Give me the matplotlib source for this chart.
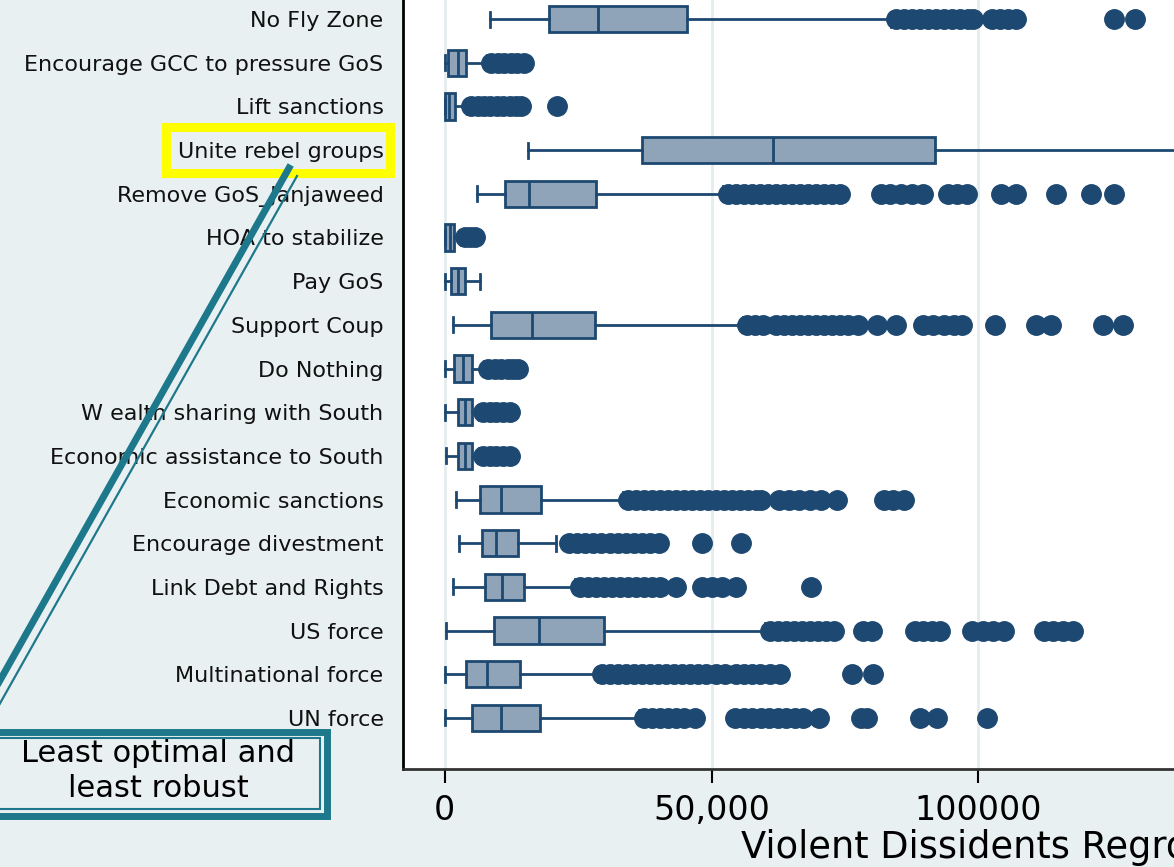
import matplotlib
matplotlib.use("Agg")
import matplotlib.pyplot as plt
from matplotlib.lines import Line2D
from matplotlib.patches import Rectangle

# policy options, top to bottom
policies = [
    "No Fly Zone", "Encourage GCC to pressure GoS", "Lift sanctions",
    "Unite rebel groups", "Remove GoS_Janjaweed", "HOA to stabilize",
    "Pay GoS", "Support Coup", "Do Nothing", "W ealth sharing with South",
    "Economic assistance to South", "Economic sanctions",
    "Encourage divestment", "Link Debt and Rights", "US force",
    "Multinational force", "UN force",
]

whislo = [8500, 0, 0, 15700, 6100, 0, 0, 1500, 0, 0, 250, 2200, 2800, 1550, 200, 0, 0]
q1 = [19600, 700, 0, 36900, 11300, 0, 1300, 8800, 1700, 2600, 2600, 6650, 7000, 7650, 9300, 4070, 5100]
med = [28700, 2500, 800, 61500, 15800, 1100, 2500, 16300, 3400, 3800, 3800, 10600, 9600, 10700, 17700, 8000, 10500]
q3 = [45400, 4000, 2000, 91900, 28400, 1800, 3800, 28100, 5100, 5100, 5100, 18000, 13700, 14900, 29900, 14200, 17900]
whishi = [83700, 7900, 4200, 180000, 52200, 3000, 6700, 55900, 7400, 6500, 6500, 33500, 20800, 24500, 60100, 28700, 36500]

out_no_fly = [84500, 86000, 87500, 89000, 90500, 92000, 93500, 95000, 96500, 98000,
              99000, 102500, 104000, 105500, 107000, 125300, 129300]
out_gcc = [8700, 10000, 11200, 12400, 13600, 14900]
out_lift = [5000, 6200, 7400, 8600, 9800, 11000, 12200, 13400, 14300, 21000]
out_unite = []
out_remove = [53000, 54500, 56000, 57500, 59000, 60500, 62000, 63500, 65000, 66500,
              68000, 69500, 71000, 72500, 74000, 81700, 83500, 85500, 87500, 89600,
              94200, 96000, 97900, 104200, 107100, 114500, 121000, 125400]
out_hoa = [3800, 4800, 5800]
out_pay = []
out_coup = [56700, 58200, 59700, 62000, 63500, 65000, 66500, 68000, 69500, 71000,
            72500, 74000, 75500, 77500, 81000, 84500, 89600, 91500, 93500, 95500,
            97000, 103000, 110800, 113600, 123300, 127000]
out_nothing = [8200, 9400, 10600, 11800, 12800, 13800]
out_wealth = [7300, 8500, 9700, 10900, 12300]
out_assist = [7300, 8500, 9700, 10900, 12300]
out_sanctions = [34300, 35800, 37300, 38800, 40300, 41800, 43300, 44800, 46300, 47800,
                 49300, 50800, 52300, 53800, 55300, 56800, 58300, 59200, 62600, 64500,
                 66400, 68500, 70500, 73500, 82300, 84000, 86000]
out_divest = [23400, 24900, 26400, 27900, 29400, 30900, 32400, 33900, 35400, 36900,
              38400, 40200, 48300, 55500]
out_debt = [25300, 26800, 28300, 29800, 31300, 32800, 34300, 35800, 37300, 38800,
            40300, 43400, 48300, 50000, 52000, 54500, 68700]
out_us = [60900, 62400, 63900, 65400, 66900, 68400, 69900, 71400, 72900, 78300,
          80000, 88200, 89700, 91200, 92800, 98800, 100800, 102800, 104800, 112200,
          114000, 115900, 117700]
out_multi = [29500, 31000, 32500, 34000, 35500, 37000, 38500, 40000, 41500, 43000,
             44500, 46000, 47500, 49000, 50800, 52500, 54500, 56000, 57500, 59000,
             61000, 62800, 76300, 80300]
out_un = [37300, 38800, 40300, 41800, 43300, 44800, 47000, 54400, 56000, 57600,
          59200, 60800, 62400, 64000, 65600, 67200, 70100, 78000, 79200, 89100,
          92300, 101600]

outliers = [out_no_fly, out_gcc, out_lift, out_unite, out_remove, out_hoa, out_pay,
            out_coup, out_nothing, out_wealth, out_assist, out_sanctions, out_divest,
            out_debt, out_us, out_multi, out_un]

xticks = [0, 50000, 100000]
xtick_labels = ["0", "50,000", "100000"]

navy = "#1d4871"
fill = "#8fa4b8"
bg = "#e9f0f2"
teal = "#1e788c"

W, H = 1174, 867
fig = plt.figure(figsize=(11.74, 8.67), dpi=100, facecolor=bg)
ax = fig.add_axes([403 / W, 98 / H, 997 / W, 801 / H])
ax.set_facecolor("white")

n = len(policies)
positions = list(range(n, 0, -1))
stats = []
for i in range(n):
    stats.append(dict(med=med[i], q1=q1[i], q3=q3[i], whislo=whislo[i],
                      whishi=whishi[i], fliers=outliers[i]))

ax.bxp(stats, positions=positions, orientation="horizontal", widths=0.6,
       capwidths=0.34, patch_artist=True,
       boxprops=dict(facecolor=fill, edgecolor=navy, linewidth=2),
       medianprops=dict(color=navy, linewidth=2),
       whiskerprops=dict(color=navy, linewidth=2),
       capprops=dict(color=navy, linewidth=2),
       flierprops=dict(marker="o", markerfacecolor=navy, markeredgecolor=navy,
                       markersize=14))

ax.set_ylim(1 - 1.17, n + 1.17)
ax.set_xlim(-7772, 178933)
ax.set_yticks(positions, policies)
ax.set_xticks(xticks, xtick_labels)
ax.tick_params(axis="y", length=0, pad=14, labelsize=16, labelcolor="#111111")
ax.tick_params(axis="x", length=10, width=1.5, pad=8, labelsize=24)
ax.set_axisbelow(True)
ax.xaxis.grid(True, color="#e3ecef", linewidth=2)

for s in ["top", "right"]:
    ax.spines[s].set_visible(False)
ax.spines["left"].set_linewidth(2)
ax.spines["bottom"].set_linewidth(2)
ax.spines["bottom"].set_color("#333333")

ax.set_xlabel("Violent Dissidents Regrouping", fontsize=26.5, ha="left")
ax.xaxis.set_label_coords((741 - 403) / 997, -0.0986)
ax.xaxis.label.set_va("center")


def fx(px):
    return px / W


def fy(py):
    return 1 - py / H


# yellow highlight around the label
fig.add_artist(Rectangle((fx(166), fy(173)), (390 - 166) / W, (173 - 127) / H,
                         transform=fig.transFigure, fill=False,
                         edgecolor="#ffff00", linewidth=6.5))

# double-line pointer
fig.add_artist(Line2D([fx(289), fx(-19)], [fy(168), fy(714)],
                      transform=fig.transFigure, color=teal, linewidth=5))
fig.add_artist(Line2D([fx(297), fx(-6)], [fy(176), fy(714)],
                      transform=fig.transFigure, color=teal, linewidth=1.6))

# callout box
fig.add_artist(Rectangle((fx(-20), fy(815.5)), 347 / W, (815.5 - 731.5) / H,
                         transform=fig.transFigure, fill=False,
                         edgecolor=teal, linewidth=5))
fig.add_artist(Rectangle((fx(-20), fy(809)), 340.5 / W, (809 - 738) / H,
                         transform=fig.transFigure, fill=False,
                         edgecolor=teal, linewidth=1.5))
fig.text(fx(158), fy(771), "Least optimal and\nleast robust", fontsize=22,
         ha="center", va="center", color="black", linespacing=1.25)

fig.savefig("out.png", dpi=100, facecolor=bg)
